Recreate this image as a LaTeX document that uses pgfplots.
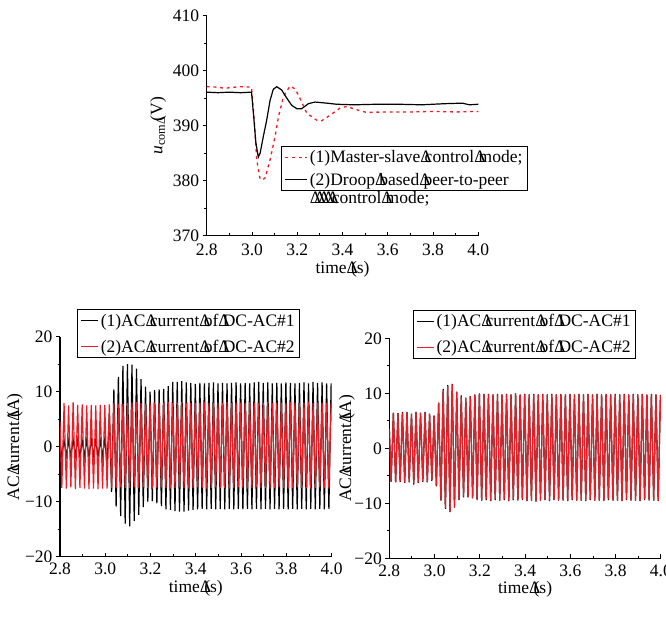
\documentclass[border=0pt]{standalone}
\usepackage{fontspec}
\setmainfont{Liberation Serif}
\usepackage{pgfplots}
\usepackage{pgfplotstable}
\pgfplotsset{compat=1.18}
\definecolor{mred}{RGB}{237,28,36}
\newcommand\dd{\rlap{Δ}\hspace{0.25em}}

% DC bus voltage (a)
\pgfplotstableread{
t u
2.800 397.1
2.850 397.0
2.880 396.8
2.920 397.0
2.960 397.1
2.998 397.0
3.010 391.0
3.021 383.8
3.035 380.5
3.045 380.1
3.058 380.5
3.080 383.8
3.102 388.0
3.117 391.6
3.139 395.3
3.168 397.2
3.190 396.7
3.205 395.6
3.242 392.3
3.286 391.0
3.308 390.9
3.345 391.9
3.389 393.2
3.419 393.5
3.463 392.9
3.507 392.4
3.580 392.5
3.700 392.5
3.800 392.6
3.900 392.5
4.000 392.6
}\volms
\pgfplotstableread{
t u
2.800 396.1
2.850 396.0
2.900 396.1
2.950 396.0
2.998 396.1
3.008 391.5
3.017 387.0
3.028 384.3
3.036 385.0
3.050 388.0
3.065 391.0
3.080 394.6
3.094 396.6
3.109 397.1
3.131 396.5
3.154 395.0
3.176 393.7
3.198 393.1
3.220 393.1
3.249 394.0
3.279 394.3
3.330 394.1
3.374 393.9
3.450 393.8
3.550 393.9
3.650 393.9
3.750 393.8
3.850 394.0
3.930 394.1
3.960 393.8
4.000 393.9
}\voldroop

% AC currents: b1/b2 = panel (b), c1/c2 = panel (c)
\pgfplotstableread{
t b1 b2 c1 c2
2.800 0.8 4.6 3.6 3.5
2.808 -1.8 -7.5 -6.1 -6.0
2.818 1.2 7.9 6.5 6.4
2.828 -1.7 -7.6 -6.2 -6.1
2.838 1.1 7.5 6.4 6.3
2.848 -1.8 -7.4 -6.1 -6.0
2.858 1.3 8.1 6.6 6.5
2.868 -1.6 -7.7 -6.3 -6.2
2.878 1.2 7.6 6.6 6.5
2.888 -1.8 -7.5 -6.2 -6.1
2.898 1.1 7.7 6.3 6.2
2.908 -1.7 -7.6 -6.6 -6.4
2.918 1.2 7.5 6.6 6.5
2.928 -1.8 -7.7 -6.3 -6.2
2.938 1.3 7.6 6.5 6.4
2.948 -1.7 -7.6 -6.1 -6.0
2.958 1.2 7.5 6.6 6.5
2.968 -1.8 -7.7 -6.2 -6.1
2.978 1.1 7.6 6.3 6.2
2.988 -1.7 -7.6 -5.9 -5.8
2.998 1.5 7.6 6.0 5.9
3.008 -3.5 -7.6 -6.9 -6.8
3.018 6.0 7.7 8.3 8.2
3.028 -8.2 -7.5 -9.5 -9.4
3.038 10.4 7.9 10.8 10.6
3.048 -10.9 -7.5 -11.0 -10.9
3.058 12.7 7.8 11.5 11.3
3.068 -12.6 -7.4 -11.6 -11.5
3.078 14.7 7.8 11.7 11.6
3.088 -14.0 -7.5 -10.8 -10.7
3.098 15.0 7.9 10.3 10.2
3.108 -14.5 -7.5 -9.4 -9.3
3.118 14.9 8.0 9.6 9.4
3.128 -13.5 -7.4 -8.9 -8.8
3.138 14.2 8.1 9.2 9.1
3.148 -12.4 -7.5 -8.9 -8.8
3.158 12.3 7.9 9.5 9.4
3.168 -11.0 -7.4 -9.1 -9.0
3.178 10.9 7.8 9.8 9.7
3.188 -10.0 -7.5 -9.4 -9.3
3.198 10.0 8.0 10.0 9.9
3.208 -9.9 -7.6 -9.5 -9.4
3.218 10.3 8.0 9.9 9.8
3.228 -10.3 -7.5 -9.4 -9.3
3.238 10.4 7.9 9.9 9.8
3.248 -10.8 -7.4 -9.6 -9.5
3.258 10.5 8.0 9.8 9.7
3.268 -11.4 -7.5 -9.4 -9.3
3.278 11.0 8.1 9.9 9.8
3.288 -11.5 -7.6 -9.5 -9.4
3.298 11.8 7.9 9.8 9.7
3.308 -11.7 -7.5 -9.4 -9.3
3.318 11.8 8.0 9.9 9.8
3.328 -11.8 -7.4 -9.6 -9.5
3.338 11.9 8.1 9.8 9.7
3.348 -11.8 -7.5 -9.4 -9.3
3.358 11.7 7.9 10.0 9.9
3.368 -11.6 -7.6 -9.5 -9.4
3.378 11.6 8.0 9.8 9.7
3.388 -11.5 -7.5 -9.4 -9.3
3.398 11.4 7.9 9.9 9.8
3.408 -11.4 -7.4 -9.6 -9.5
3.418 11.6 8.0 9.8 9.7
3.428 -11.3 -7.5 -9.5 -9.4
3.438 11.5 8.1 9.9 9.8
3.448 -11.4 -7.6 -9.7 -9.6
3.458 11.6 7.9 9.8 9.7
3.468 -11.3 -7.5 -9.5 -9.4
3.478 11.7 8.0 9.9 9.8
3.488 -11.4 -7.4 -9.4 -9.3
3.498 11.5 8.0 9.8 9.7
3.508 -11.3 -7.5 -9.6 -9.5
3.518 11.6 7.9 9.9 9.8
3.528 -11.4 -7.5 -9.4 -9.3
3.538 11.5 8.1 9.8 9.7
3.548 -11.3 -7.6 -9.5 -9.4
3.558 11.6 7.9 9.9 9.8
3.568 -11.4 -7.5 -9.5 -9.4
3.578 11.7 8.0 9.8 9.7
3.588 -11.3 -7.4 -9.6 -9.5
3.598 11.5 8.0 9.9 9.8
3.608 -11.4 -7.5 -9.4 -9.3
3.618 11.6 7.9 9.8 9.7
3.628 -11.3 -7.6 -9.5 -9.4
3.638 11.5 8.1 9.9 9.8
3.648 -11.4 -7.5 -9.5 -9.4
3.658 11.7 8.0 9.8 9.7
3.668 -11.3 -7.4 -9.6 -9.5
3.678 11.8 7.9 9.9 9.8
3.688 -11.4 -7.5 -9.4 -9.3
3.698 11.6 8.0 9.8 9.7
3.708 -11.3 -7.5 -9.5 -9.4
3.718 11.7 8.1 9.9 9.8
3.728 -11.4 -7.6 -9.5 -9.4
3.738 11.5 7.9 9.8 9.7
3.748 -11.3 -7.5 -9.6 -9.5
3.758 11.6 8.0 9.9 9.8
3.768 -11.4 -7.4 -9.4 -9.3
3.778 11.5 8.0 9.8 9.7
3.788 -11.3 -7.5 -9.5 -9.4
3.798 11.7 7.9 9.9 9.8
3.808 -11.4 -7.6 -9.5 -9.4
3.818 11.6 8.1 9.8 9.7
3.828 -11.3 -7.5 -9.6 -9.5
3.838 11.5 8.0 9.9 9.8
3.848 -11.4 -7.4 -9.4 -9.3
3.858 11.6 7.9 9.8 9.7
3.868 -11.3 -7.5 -9.5 -9.4
3.878 11.7 8.0 9.9 9.8
3.888 -11.4 -7.5 -9.5 -9.4
3.898 11.5 8.1 9.8 9.7
3.908 -11.3 -7.6 -9.6 -9.5
3.918 11.8 7.9 9.9 9.8
3.928 -11.4 -7.5 -9.4 -9.3
3.938 11.6 8.0 9.8 9.7
3.948 -11.3 -7.4 -9.5 -9.4
3.958 11.7 8.0 9.9 9.8
3.968 -11.4 -7.5 -9.5 -9.4
3.978 11.5 7.9 9.8 9.7
3.988 -11.3 -7.6 -9.6 -9.5
3.998 11.5 8.0 9.7 9.6
4.000 7.0 4.8 5.6 5.5
}\accur

\pgfplotsset{
  panel/.style={
    scale only axis, width=271.6pt, height=220pt,
    xmin=2.8, xmax=4.0,
    axis x line*=bottom, axis y line*=left,
    axis line style={line width=1.1pt},
    tick style={black, line width=0.9pt},
    tick align=inside, major tick length=4pt, minor tick length=2.5pt,
    every major y tick/.append style={xshift=-4pt},
    every minor y tick/.append style={xshift=-2.5pt},
    minor tick num=1,
    xtick={2.8,3.0,3.2,3.4,3.6,3.8,4.0},
    xticklabel style={/pgf/number format/.cd,fixed,fixed zerofill,precision=1},
    /pgf/number format/assume math mode=true,
    xticklabel shift=3pt, yticklabel shift=4pt,
    xlabel={time\dd(s)},
    xlabel style={at={(axis description cs:0.5,-0.142)}, anchor=center},
    legend cell align=left,
    legend style={draw=black, fill=white, line width=1pt, row sep=4pt,
      inner xsep=3pt, inner ysep=2pt},
  },
  curr/.style={panel,
    ymin=-20, ymax=20, ytick={-20,-10,0,10,20},
    yticklabels={−20,−10,0,10,20},
    ylabel={AC\dd current\dd(A)},
    legend style={row sep=8pt},
    legend image code/.code={\draw[##1] (0pt,0pt) -- (17pt,0pt);},
  },
}

\begin{document}
\begin{tikzpicture}[font=\fontsize{17.5}{18.5}\selectfont]
\useasboundingbox (0,0) rectangle (666pt,-617pt);

\begin{axis}[panel, anchor=south west, at={(206.7pt,-235.7pt)},
  ymin=370, ymax=410, ytick={370,380,390,400,410},
  xticklabel shift=4.5pt,
  xlabel style={at={(axis description cs:0.5,-0.154)}, anchor=center},
  ylabel={\textit{u}\textsubscript{com\dd}(V)},
  ylabel style={at={(axis description cs:-0.179,0.5)}, anchor=center},
  legend style={at={(axis description cs:0.274,0.408)}, anchor=north west},
  legend image code/.code={\draw[#1] (0pt,0pt) -- (22pt,0pt);}]
\addplot[mred, line width=1.3pt, dash pattern=on 3pt off 3.7pt] table[x=t,y=u] {\volms};
\addplot[black, line width=1.2pt] table[x=t,y=u] {\voldroop};
\addlegendentry{(1)Master-slave\dd control\dd mode;}
\addlegendentry{\begin{tabular}[t]{@{}l@{}}(2)Droop\dd based\dd peer-to-peer\\\dd\dd\dd\dd\dd control\dd mode;\end{tabular}}
\node at (axis description cs:0.5,-0.228) {(a)};
\end{axis}

\begin{axis}[curr, anchor=south west, at={(60pt,-556.7pt)},
  ylabel style={at={(axis description cs:-0.166,0.5)}, anchor=center},
  legend style={at={(axis description cs:0.063,1.124)}, anchor=north west}]
\addplot[black, line width=1.2pt] table[x=t,y=b1] {\accur};
\addplot[mred, line width=1.2pt] table[x=t,y=b2] {\accur};
\addlegendentry{(1)AC\dd current\dd of\dd DC-AC\#1}
\addlegendentry{(2)AC\dd current\dd of\dd DC-AC\#2}
\node at (axis description cs:0.5,-0.23) {(b)};
\end{axis}

\begin{axis}[curr, anchor=south west, at={(389.3pt,-558.3pt)},
  ylabel style={at={(axis description cs:-0.156,0.5)}, anchor=center},
  legend style={at={(axis description cs:0.087,1.129)}, anchor=north west}]
\addplot[black, line width=1.2pt] table[x=t,y=c1] {\accur};
\addplot[mred, line width=1.2pt] table[x=t,y=c2] {\accur};
\addlegendentry{(1)AC\dd current\dd of\dd DC-AC\#1}
\addlegendentry{(2)AC\dd current\dd of\dd DC-AC\#2}
\node at (axis description cs:0.5,-0.225) {(c)};
\end{axis}
\end{tikzpicture}
\end{document}
